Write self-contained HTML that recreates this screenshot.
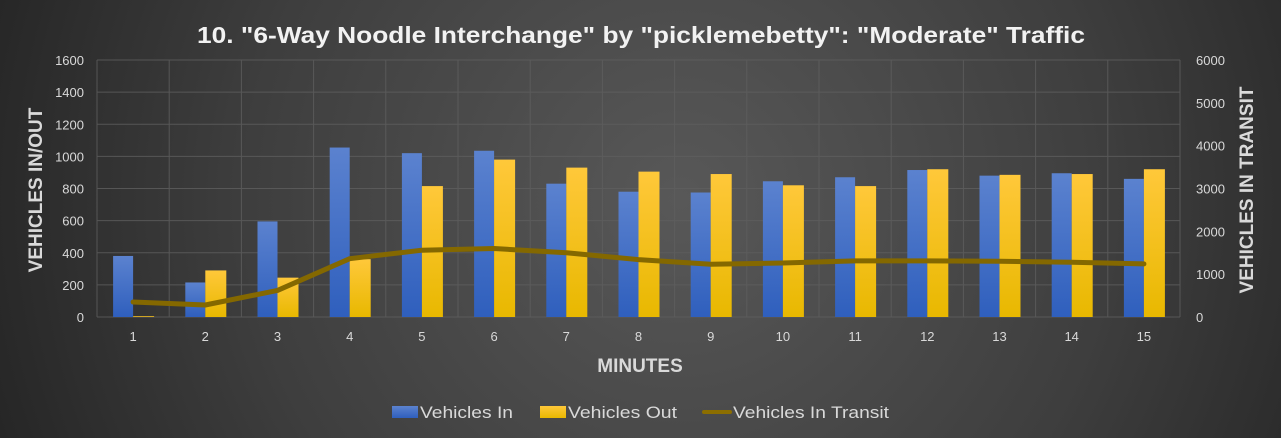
<!DOCTYPE html>
<html><head><meta charset="utf-8"><style>
html,body{margin:0;padding:0;width:1281px;height:438px;overflow:hidden;background:#333}
svg{display:block}
text{font-family:"Liberation Sans",sans-serif}
</style></head><body>
<svg width="1281" height="438" xmlns="http://www.w3.org/2000/svg">
<defs>
<radialGradient id="bg" cx="680" cy="200" r="720" gradientUnits="userSpaceOnUse">
<stop offset="0" stop-color="#585858"/><stop offset="0.6" stop-color="#3e3e3e"/><stop offset="1" stop-color="#262626"/>
</radialGradient>
<linearGradient id="gb" x1="0" y1="0" x2="0" y2="1"><stop offset="0" stop-color="#5b82cf"/><stop offset="1" stop-color="#2f5fbd"/></linearGradient>
<linearGradient id="gy" x1="0" y1="0" x2="0" y2="1"><stop offset="0" stop-color="#ffc83a"/><stop offset="1" stop-color="#e8b800"/></linearGradient>
</defs>
<rect width="1281" height="438" fill="url(#bg)"/>
<g id="grid" stroke="#5f5f5f" stroke-width="1" opacity="0.8"></g>
<g id="bars"></g>
<text x="197" y="43" textLength="888" lengthAdjust="spacingAndGlyphs" font-size="23" font-weight="bold" fill="#f2f2f2">10. "6-Way Noodle Interchange" by "picklemebetty": "Moderate" Traffic</text>
<g id="lab" font-size="13" fill="#d9d9d9"></g>
<text x="640" y="372" text-anchor="middle" font-size="19" font-weight="bold" fill="#d9d9d9">MINUTES</text>
<text transform="translate(42,190) rotate(-90)" text-anchor="middle" font-size="19" font-weight="bold" fill="#d9d9d9">VEHICLES IN/OUT</text>
<text transform="translate(1253,190) rotate(-90)" text-anchor="middle" font-size="19" font-weight="bold" fill="#d9d9d9">VEHICLES IN TRANSIT</text>
<rect x="392" y="406" width="26" height="12" fill="url(#gb)"/>
<text x="420" y="418" textLength="93" lengthAdjust="spacingAndGlyphs" font-size="17" fill="#d9d9d9">Vehicles In</text>
<rect x="540" y="406" width="26" height="12" fill="url(#gy)"/>
<text x="568" y="418" textLength="109" lengthAdjust="spacingAndGlyphs" font-size="17" fill="#d9d9d9">Vehicles Out</text>
<line x1="704" y1="412" x2="730" y2="412" stroke="#8c6e00" stroke-width="4" stroke-linecap="round"/>
<text x="733" y="418" textLength="156" lengthAdjust="spacingAndGlyphs" font-size="17" fill="#d9d9d9">Vehicles In Transit</text>
</svg>
<script>
var ns="http://www.w3.org/2000/svg";
function el(p,t,a,txt){var e=document.createElementNS(ns,t);for(var k in a)e.setAttribute(k,a[k]);if(txt!=null)e.textContent=txt;p.appendChild(e);return e;}
var L=97,R=1180,T=60,B=317,cw=(R-L)/15;
var g=document.getElementById('grid'),bars=document.getElementById('bars'),lab=document.getElementById('lab');
for(var i=0;i<=8;i++){var y=B-(B-T)*i/8;el(g,'line',{x1:L,x2:R,y1:y,y2:y});
el(lab,'text',{x:84,y:y+5,'text-anchor':'end'},String(i*200));}
for(var i=0;i<=6;i++){var y=B-(B-T)*i/6;el(lab,'text',{x:1196,y:y+5},String(i*1000));}
for(var i=0;i<=15;i++){var x=L+cw*i;el(g,'line',{x1:x,x2:x,y1:T,y2:B});}
var vin=[380,215,595,1055,1020,1035,830,780,775,845,870,915,880,895,860];
var vout=[5,290,245,360,815,980,930,905,890,820,815,920,885,890,920];
var vt=[350,280,620,1360,1560,1600,1500,1340,1230,1260,1310,1310,1300,1280,1240];
var pts=[];
for(var i=0;i<15;i++){var c=L+cw*(i+0.5);
var h1=vin[i]/1600*(B-T),h2=vout[i]/1600*(B-T);
el(bars,'rect',{x:c-20,y:B-h1,width:20,height:h1,fill:'url(#gb)'});
el(bars,'rect',{x:c,y:B-h2,width:21,height:h2,fill:'url(#gy)'});
el(lab,'text',{x:c,y:341,'text-anchor':'middle'},String(i+1));
pts.push(c.toFixed(1)+','+(B-vt[i]/6000*(B-T)).toFixed(1));}
el(bars,'polyline',{points:pts.join(' '),fill:'none',stroke:'#846800','stroke-width':5,'stroke-linejoin':'round','stroke-linecap':'round'});
</script>
</body></html>
